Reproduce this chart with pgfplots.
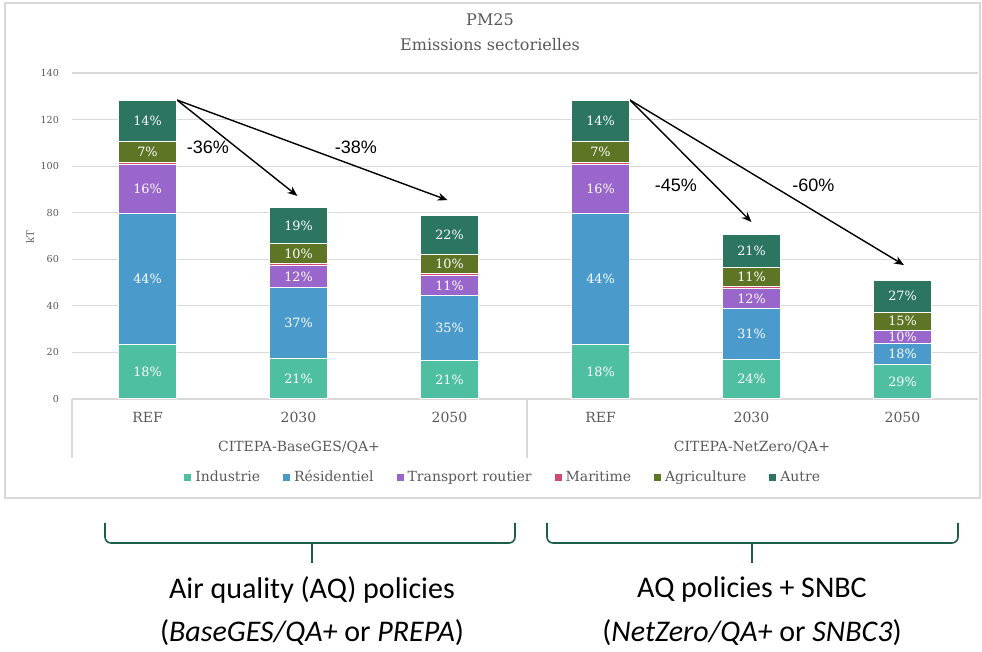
\documentclass[border=0pt]{standalone}
\usepackage{pgfplots}
\pgfplotsset{compat=1.18}
\usepackage{fontspec}
\setmainfont{DejaVu Serif}
\newfontfamily\arialf{Liberation Sans}
\newfontfamily\calib{Carlito}
\usetikzlibrary{arrows.meta}
\definecolor{cInd}{HTML}{4FBFA1}
\definecolor{cRes}{HTML}{4A9BCC}
\definecolor{cTra}{HTML}{9966CC}
\definecolor{cMar}{HTML}{D24A72}
\definecolor{cAgr}{HTML}{5F7526}
\definecolor{cAut}{HTML}{2B7561}
\definecolor{cGrid}{HTML}{D9D9D9}
\definecolor{cTxt}{HTML}{595959}
\definecolor{cBrace}{HTML}{1E5E48}
\begin{document}
\begin{tikzpicture}
\path[use as bounding box] (0pt,0pt) rectangle (491pt,326pt);
\begin{scope}[x=0.5pt,y=-0.5pt,yshift=326pt]
  \draw[cGrid,line width=0.6pt] (5,3) rectangle (980,498);
  \node[cTxt,font=\fontsize{8}{9.6}\selectfont] at (490,20) {PM25};
  \node[cTxt,font=\fontsize{8}{9.6}\selectfont] at (490,45) {Emissions sectorielles};
  \draw[cGrid,line width=0.6pt] (72,399) -- (72,458);
  \draw[cGrid,line width=0.6pt] (527,399) -- (527,458);
  \node[cTxt,font=\fontsize{7}{8}\selectfont] at (299,447) {CITEPA-BaseGES/QA+};
  \node[cTxt,font=\fontsize{7}{8}\selectfont] at (752,447) {CITEPA-NetZero/QA+};
  \node[cTxt,font=\fontsize{5}{6}\selectfont,rotate=90] at (30,237) {kT};
  % braces
  \draw[cBrace,line width=0.8pt,rounded corners=3pt] (105,523) |- (312,543);
  \draw[cBrace,line width=0.8pt,rounded corners=3pt] (515,523) |- (312,543);
  \draw[cBrace,line width=0.8pt] (312,543) -- (312,563);
  \draw[cBrace,line width=0.8pt,rounded corners=3pt] (547,523) |- (752,543);
  \draw[cBrace,line width=0.8pt,rounded corners=3pt] (958,523) |- (752,543);
  \draw[cBrace,line width=0.8pt] (752,543) -- (752,563);
  \node[font=\calib\fontsize{15}{17}\selectfont] at (312,590) {Air quality (AQ) policies};
  \node[font=\calib\fontsize{15}{17}\selectfont] at (312,633) {(\textit{BaseGES/QA+} or \textit{PREPA})};
  \node[font=\calib\fontsize{15}{17}\selectfont] at (752,590) {AQ policies + SNBC};
  \node[font=\calib\fontsize{15}{17}\selectfont] at (752,633) {(\textit{NetZero/QA+} or \textit{SNBC3})};
\end{scope}
\begin{axis}[
  at={(36pt,126.5pt)}, anchor=south west,
  scale only axis, width=453pt, height=163pt,
  ybar stacked, bar width=0.39,
  xmin=-0.5, xmax=5.5, ymin=0, ymax=140,
  xtick={0,1,2,3,4,5},
  xticklabels={REF,2030,2050,REF,2030,2050},
  xticklabel style={cTxt,font=\fontsize{7}{8}\selectfont,yshift=-3pt},
  ytick={0,20,...,140},
  yticklabel style={cTxt,font=\fontsize{4.8}{6}\selectfont,xshift=-3pt},
  /pgf/number format/assume math mode=true,
  major tick length=0pt,
  axis y line*=left, y axis line style={draw=none},
  axis x line*=bottom, x axis line style={cGrid,line width=0.6pt},
  ymajorgrids, grid style={cGrid,line width=0.6pt},
  axis on top=false,
  point meta=explicit symbolic,
  nodes near coords,
  every node near coord/.append style={white,font=\fontsize{6.4}{7}\selectfont,anchor=center},
  legend columns=6,
  legend style={at={(0.477,-0.242)},anchor=center,draw=none,fill=none,
    font=\fontsize{7}{8}\selectfont,text=cTxt,
    /tikz/every even column/.append style={column sep=9.5pt}},
  legend image code/.code={\path[#1,draw=none] (0pt,-1.75pt) rectangle (3.5pt,1.75pt);},
]
\addplot[fill=cInd,draw=white,line width=0.5pt] coordinates {
 (0,23.3)[18\%] (1,17.2)[21\%] (2,16.6)[21\%] (3,23.3)[18\%] (4,17.0)[24\%] (5,14.9)[29\%]};
\addplot[fill=cRes,draw=white,line width=0.5pt] coordinates {
 (0,56.5)[44\%] (1,30.6)[37\%] (2,27.8)[35\%] (3,56.5)[44\%] (4,21.9)[31\%] (5,9.0)[18\%]};
\addplot[fill=cTra,draw=white,line width=0.5pt] coordinates {
 (0,20.7)[16\%] (1,9.6)[12\%] (2,8.6)[11\%] (3,20.7)[16\%] (4,8.6)[12\%] (5,5.3)[10\%]};
\addplot[fill=cMar,draw=white,line width=0.5pt] coordinates {
 (0,1.2)[] (1,0.9)[] (2,1.0)[] (3,1.2)[] (4,1.0)[] (5,0.4)[]};
\addplot[fill=cAgr,draw=white,line width=0.5pt] coordinates {
 (0,8.7)[7\%] (1,8.4)[10\%] (2,8.0)[10\%] (3,8.7)[7\%] (4,7.8)[11\%] (5,7.6)[15\%]};
\addplot[fill=cAut,draw=white,line width=0.5pt] coordinates {
 (0,18.0)[14\%] (1,15.6)[19\%] (2,17.0)[22\%] (3,18.0)[14\%] (4,14.5)[21\%] (5,13.9)[27\%]};
\legend{Industrie,Résidentiel,Transport routier,Maritime,Agriculture,Autre}
\draw[black,line width=0.7pt,-{Stealth[length=5pt,width=4pt]}] (axis cs:0.195,128.4) -- (axis cs:0.993,87.2);
\draw[black,line width=0.7pt,-{Stealth[length=5pt,width=4pt]}] (axis cs:0.195,128.4) -- (axis cs:1.987,85.4);
\draw[black,line width=0.7pt,-{Stealth[length=5pt,width=4pt]}] (axis cs:3.195,128.4) -- (axis cs:4.0,76);
\draw[black,line width=0.7pt,-{Stealth[length=5pt,width=4pt]}] (axis cs:3.195,128.4) -- (axis cs:5.01,57.5);
\node[font=\arialf\fontsize{9}{10}\selectfont] at (axis cs:0.40,108.2) {-36\%};
\node[font=\arialf\fontsize{9}{10}\selectfont] at (axis cs:1.38,108.2) {-38\%};
\node[font=\arialf\fontsize{9}{10}\selectfont] at (axis cs:3.50,91.9) {-45\%};
\node[font=\arialf\fontsize{9}{10}\selectfont] at (axis cs:4.41,91.9) {-60\%};
\end{axis}
\end{tikzpicture}
\end{document}
